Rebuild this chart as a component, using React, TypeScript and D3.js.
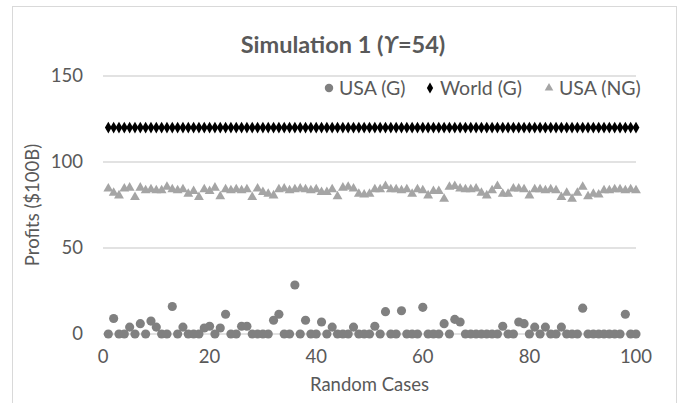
import React from "react";
import * as d3 from "d3";

// random case numbers 1..100 (x categories)
const cases = [
  1, 2, 3, 4, 5, 6, 7, 8, 9, 10, 11, 12, 13, 14, 15, 16, 17, 18, 19, 20,
  21, 22, 23, 24, 25, 26, 27, 28, 29, 30, 31, 32, 33, 34, 35, 36, 37, 38, 39, 40,
  41, 42, 43, 44, 45, 46, 47, 48, 49, 50, 51, 52, 53, 54, 55, 56, 57, 58, 59, 60,
  61, 62, 63, 64, 65, 66, 67, 68, 69, 70, 71, 72, 73, 74, 75, 76, 77, 78, 79, 80,
  81, 82, 83, 84, 85, 86, 87, 88, 89, 90, 91, 92, 93, 94, 95, 96, 97, 98, 99, 100,
];

const usaG = [
  0, 9, 0, 0, 4, 0, 6, 0, 7.5, 4,
  0, 0, 16, 0, 4, 0, 0, 0, 3.5, 4.5,
  0, 3.5, 11.5, 0, 0, 4.5, 4.5, 0, 0, 0,
  0, 8, 11.5, 0, 0, 28.5, 0, 8, 0, 0,
  7, 0, 4, 0, 0, 0, 4, 0, 0, 0,
  4.5, 0, 13, 0, 0, 13.5, 0, 0, 0, 15.5,
  0, 0, 0, 6, 0, 8.5, 7, 0, 0, 0,
  0, 0, 0, 0, 4.5, 0, 0, 7, 6, 0,
  4, 0, 4, 0, 0, 4, 0, 0, 0, 15,
  0, 0, 0, 0, 0, 0, 0, 11.5, 0, 0,
];

const worldG = [
  120, 120, 120, 120, 120, 120, 120, 120, 120, 120,
  120, 120, 120, 120, 120, 120, 120, 120, 120, 120,
  120, 120, 120, 120, 120, 120, 120, 120, 120, 120,
  120, 120, 120, 120, 120, 120, 120, 120, 120, 120,
  120, 120, 120, 120, 120, 120, 120, 120, 120, 120,
  120, 120, 120, 120, 120, 120, 120, 120, 120, 120,
  120, 120, 120, 120, 120, 120, 120, 120, 120, 120,
  120, 120, 120, 120, 120, 120, 120, 120, 120, 120,
  120, 120, 120, 120, 120, 120, 120, 120, 120, 120,
  120, 120, 120, 120, 120, 120, 120, 120, 120, 120,
];

const usaNG = [
  84.5, 82, 80.5, 84.5, 85, 79.5, 85, 83.5, 84, 83.5,
  83.5, 85.5, 84, 83.5, 84, 81.5, 83, 79.5, 84, 83,
  85, 80, 84, 83.5, 84, 83.5, 84, 79.5, 84.5, 82.5,
  81.5, 80.5, 84, 84.5, 83.5, 84, 84.5, 84, 83.5, 84,
  82.5, 82.5, 84, 80, 85, 85.5, 84.5, 81.5, 81, 81.5,
  84, 84, 86, 84, 84, 83.5, 84, 81.5, 84, 83.5,
  80.5, 83, 83, 78.5, 85.5, 86, 84.5, 84, 84, 84.5,
  82, 80.5, 83.5, 86, 81.5, 81.5, 84.5, 84.5, 84, 80.5,
  84, 84, 83.5, 84, 83.5, 79.5, 82, 78.5, 82, 85.5,
  80, 81.5, 81, 83.5, 83.5, 84, 84, 83.5, 84, 83.5,
];

const xTicks = [0, 20, 40, 60, 80, 100];
const yTicks = [0, 50, 100, 150];

const seriesNames = ["USA (G)", "World (G)", "USA (NG)"];
const seriesColors = ["#808080", "#000000", "#a5a5a5"];

const font = "Lato, 'Open Sans', sans-serif";
const textColor = "#595959";

export default function App() {
  const width = 680;
  const height = 403;
  const plot = { left: 103, right: 636, top: 76, bottom: 334 };

  const x = d3.scaleLinear().domain([0, 100]).range([plot.left, plot.right]);
  const y = d3.scaleLinear().domain([0, 150]).range([plot.bottom, plot.top]);

  const circle = d3.symbol().type(d3.symbolCircle).size(66)();
  const diamond = d3.symbol().type(d3.symbolDiamond).size(40)();
  const triangle = d3.symbol().type(d3.symbolTriangle).size(42)();
  const shapes = [circle, diamond, triangle];
  const legendShapes = [
    d3.symbol().type(d3.symbolCircle).size(56)(),
    d3.symbol().type(d3.symbolDiamond).size(34)(),
    d3.symbol().type(d3.symbolTriangle).size(32)(),
  ];
  const series = [usaG, worldG, usaNG];

  const legendX = [329, 430, 549];

  return (
    <div style={{ position: "absolute", left: 0, top: 0 }}>
      <svg width={width} height={height} style={{ display: "block", background: "#fff" }}>
        <rect x={12.5} y={6.5} width={664} height={420} fill="#fff" stroke="#d9d9d9" strokeWidth={1} />

        <text x={343} y={53} textAnchor="middle" fontFamily={font} fontWeight="bold" fontSize={23.5} fill={textColor}>
          Simulation 1 (<tspan fontStyle="italic">ϒ</tspan>=54)
        </text>

        {yTicks.map((t) => (
          <g key={t}>
            <line x1={plot.left} x2={plot.right} y1={y(t)} y2={y(t)} stroke="#d9d9d9" strokeWidth={1.3} />
            <text x={83} y={y(t)} dy="0.35em" textAnchor="end" fontFamily={font} fontSize={18.5} fill={textColor}>
              {t}
            </text>
          </g>
        ))}

        {xTicks.map((t) => (
          <text key={t} x={x(t)} y={363} textAnchor="middle" fontFamily={font} fontSize={18.5} fill={textColor}>
            {t}
          </text>
        ))}

        <text x={(plot.left + plot.right) / 2} y={391} textAnchor="middle" fontFamily={font} fontSize={18.5} fill={textColor}>
          Random Cases
        </text>
        <text
          transform={`translate(39,${(plot.top + plot.bottom) / 2}) rotate(-90)`}
          textAnchor="middle"
          fontFamily={font}
          fontSize={18.5}
          fill={textColor}
        >
          Profits ($100B)
        </text>

        {series.map((vals, si) => (
          <g key={si}>
            {vals.map((v, i) => (
              <path
                key={i}
                d={shapes[si]}
                transform={`translate(${x(cases[i])},${y(v)})`}
                fill={seriesColors[si]}
              />
            ))}
          </g>
        ))}

        {seriesNames.map((name, i) => (
          <g key={name} transform={`translate(${legendX[i]},88)`}>
            <path d={legendShapes[i]} fill={seriesColors[i]} />
            <text x={10} dy="0.35em" fontFamily={font} fontSize={19.5} fill={textColor}>
              {name}
            </text>
          </g>
        ))}
      </svg>
    </div>
  );
}
